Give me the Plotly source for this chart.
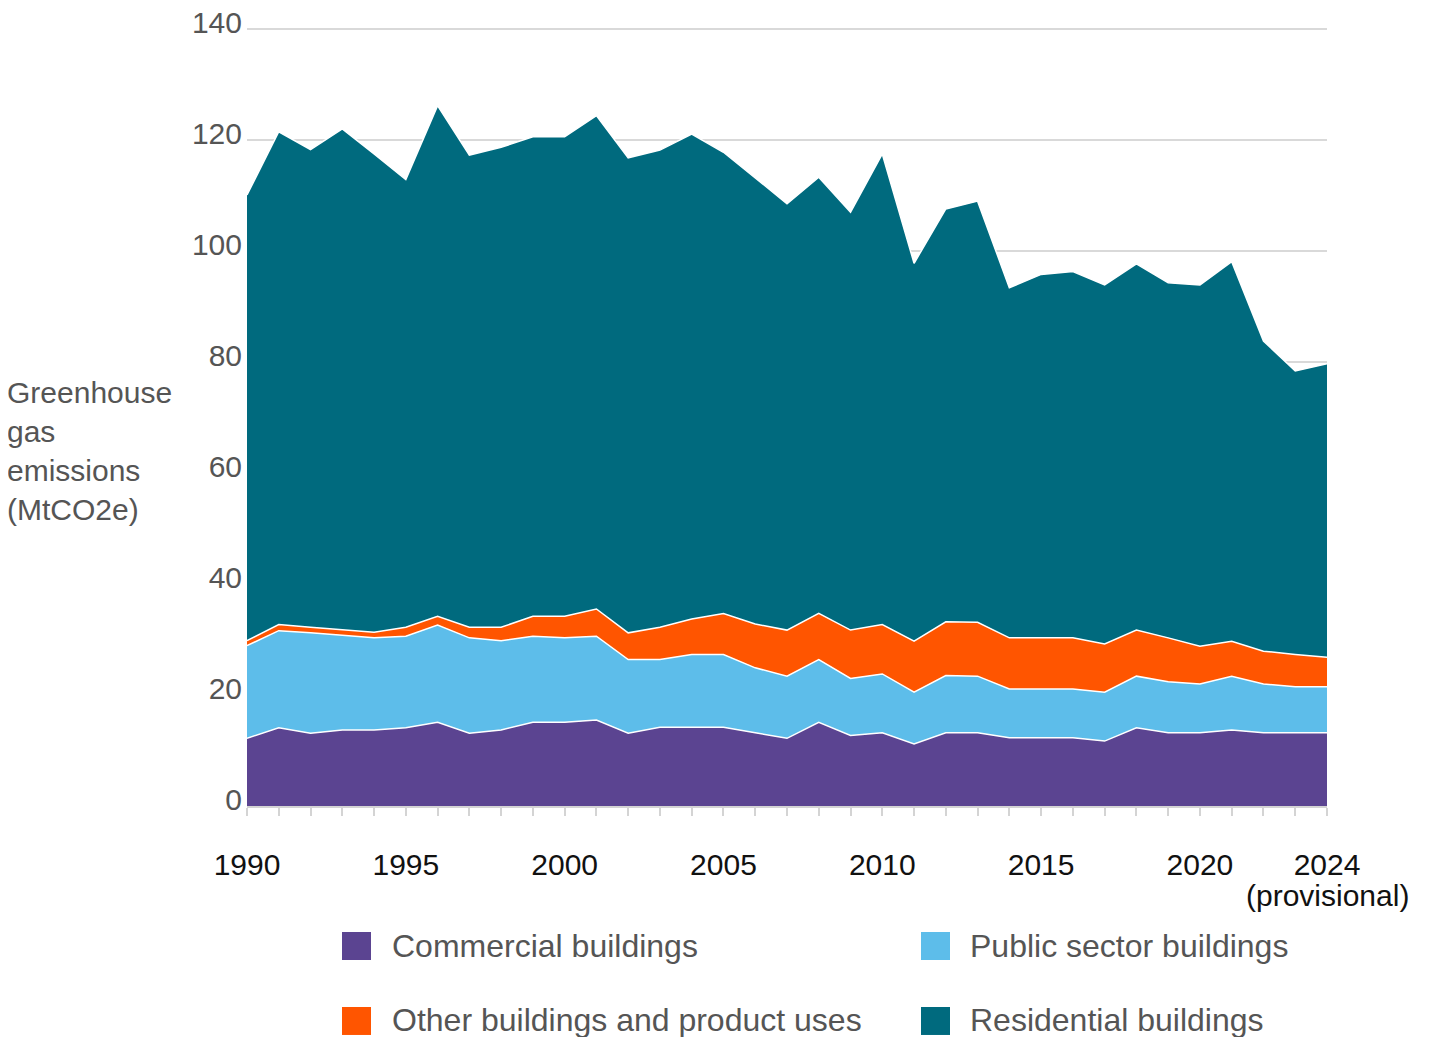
import plotly.graph_objects as go

years = list(range(1990, 2025))

commercial = [12.2, 14.1, 13.1, 13.7, 13.7, 14.1, 15.1, 13.1, 13.7, 15.1,
              15.1, 15.5, 13.1, 14.2, 14.2, 14.2, 13.2, 12.2, 15.1, 12.7,
              13.2, 11.2, 13.2, 13.2, 12.3, 12.3, 12.3, 11.7, 14.1, 13.2,
              13.2, 13.7, 13.2, 13.2, 13.2]
public = [16.7, 17.5, 18.1, 17.0, 16.6, 16.5, 17.5, 17.2, 16.1, 15.5,
          15.2, 15.1, 13.3, 12.2, 13.1, 13.1, 11.7, 11.2, 11.3, 10.3,
          10.6, 9.3, 10.3, 10.2, 8.8, 8.8, 8.8, 8.8, 9.3, 9.2,
          8.8, 9.7, 8.8, 8.3, 8.3]
other = [0.9, 1.1, 1.0, 1.1, 1.0, 1.6, 1.6, 1.9, 2.4, 3.6,
         3.9, 4.9, 4.8, 5.8, 6.4, 7.4, 7.9, 8.3, 8.3, 8.7,
         8.9, 9.2, 9.7, 9.7, 9.2, 9.2, 9.2, 8.7, 8.3, 7.9,
         6.8, 6.3, 5.9, 5.8, 5.3]
residential = [80.3, 88.8, 86.1, 90.2, 86.2, 80.7, 92.0, 85.1, 86.5, 86.4,
               86.4, 88.9, 85.6, 86.0, 87.4, 83.1, 80.4, 76.8, 78.6, 75.3,
               84.8, 68.1, 74.4, 75.9, 63.1, 65.5, 66.0, 64.7, 66.0, 64.0,
               65.1, 68.4, 55.9, 51.1, 52.9]

series_names = ["Commercial buildings", "Public sector buildings",
                "Other buildings and product uses", "Residential buildings"]
series_values = [commercial, public, other, residential]
series_colors = ["#5B4491", "#5DBDEA", "#FF5500", "#006A7E"]

labelled_years = {1990: "1990", 1995: "1995", 2000: "2000", 2005: "2005",
                  2010: "2010", 2015: "2015", 2020: "2020", 2024: "2024"}
tick_text = [labelled_years.get(y, "") for y in years]
provisional_year = 2024
provisional_note = "(provisional)"

y_ticks = [0, 20, 40, 60, 80, 100, 120, 140]
Y_MAX = 142

FONT = "Liberation Sans, Arial, Helvetica, sans-serif"
GREY = "#555555"

fig = go.Figure()
for name, vals, col in zip(series_names, series_values, series_colors):
    fig.add_trace(go.Scatter(
        x=years, y=vals, name=name, mode="lines", stackgroup="one",
        line=dict(color="white", width=1.5), fillcolor=col,
        showlegend=False, hoverinfo="x+y+name"))

# page is offset by the body's 8px margin; work in page pixels and convert
OFF = 8
FIG_W, FIG_H = 1430 - OFF, 1037 - OFF
SCALE = (806 - 29) / 140.0          # px per unit: 0 at page y 806, 140 at page y 29
L, R = 247 - OFF, 1327 - OFF
B = 806 - OFF
T = B - Y_MAX * SCALE
W, H = R - L, B - T


def px(xp):
    return (xp - OFF - L) / W


def py(yp):
    return (B - (yp - OFF)) / H


shapes = []
annotations = []
legend_pos = [(342, 932, 390, 946), (921, 932, 968, 946),
              (342, 1007, 390, 1020), (921, 1007, 968, 1020)]
for (sx, sy, tx, ty), name, col in zip(legend_pos, series_names, series_colors):
    shapes.append(dict(type="rect", xref="paper", yref="paper",
                       x0=px(sx), x1=px(sx + 29), y0=py(sy), y1=py(sy + 28),
                       fillcolor=col, line=dict(width=0)))
    annotations.append(dict(text=name, xref="paper", yref="paper",
                            x=px(tx), y=py(ty), xanchor="left", yanchor="middle",
                            showarrow=False, font=dict(size=32, color=GREY, family=FONT)))

annotations.append(dict(text="Greenhouse<br>gas<br>emissions<br>(MtCO2e)",
                        xref="paper", yref="paper", x=px(5), y=py(451),
                        xanchor="left", yanchor="middle", align="left",
                        showarrow=False, font=dict(size=30, color=GREY, family=FONT)))

annotations.append(dict(text=provisional_note, xref="x", yref="paper",
                        x=provisional_year, y=py(896), xanchor="center", yanchor="middle",
                        showarrow=False, font=dict(size=30, color="#111111", family=FONT)))

fig.update_layout(
    width=FIG_W, height=FIG_H,
    margin=dict(l=L, r=FIG_W - R, t=T, b=FIG_H - B, pad=0, autoexpand=False),
    paper_bgcolor="white", plot_bgcolor="white",
    font=dict(family=FONT, size=30, color=GREY),
    shapes=shapes, annotations=annotations,
    showlegend=False,
    xaxis=dict(range=[1990, 2024], tickvals=years, ticktext=tick_text,
               ticks="outside", ticklen=8, tickwidth=2, tickcolor="#d4d4d4",
               showline=True, linecolor="#d4d4d4", linewidth=2,
               showgrid=False, zeroline=False, automargin=False,
               tickfont=dict(size=30, color="#111111", family=FONT),
               ticklabelstandoff=23, ticklabeloverflow="allow"),
    yaxis=dict(range=[0, Y_MAX], tickvals=y_ticks, showgrid=True,
               gridcolor="#d9d9d9", gridwidth=2, zeroline=False, automargin=False,
               tickfont=dict(size=30, color=GREY, family=FONT),
               ticklabelshift=-7, ticklabelstandoff=4,
               ticklabeloverflow="allow"),
)

fig.write_html("out.html")
